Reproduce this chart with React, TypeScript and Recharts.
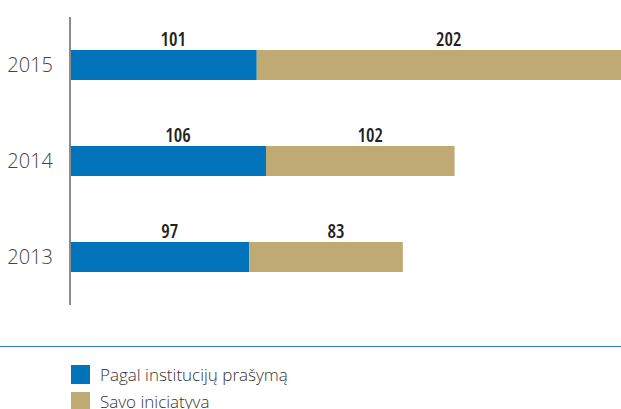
import React from "react";
import { BarChart, Bar, XAxis, YAxis, LabelList } from "recharts";

const years = ["2015", "2014", "2013"];
const pagal = [101, 106, 97];
const savo = [202, 102, 83];
const seriesNames = ["Pagal institucijų prašymą", "Savo iniciatyva"];

const BLUE = "#0073BA";
const TAN = "#C0AA74";

const data = years.map((y, i) => ({ year: y, pagal: pagal[i], savo: savo[i] }));

const ValueLabel = (props: any) => {
  const { x, y, width, value } = props;
  return (
    <text
      x={x + width / 2 + 10}
      y={y - 4}
      textAnchor="middle"
      fontFamily="'Open Sans', sans-serif"
      fontWeight={600}
      fontSize={19}
      fill="#222"
      style={{ fontStretch: "75%" }}
    >
      {value}
    </text>
  );
};

export default function App() {
  return (
    <div style={{ position: "absolute", left: 0, top: 0, width: 621, height: 409, overflow: "hidden", background: "#fff" }}>
      <BarChart
        width={621}
        height={409}
        data={data}
        layout="vertical"
        margin={{ top: 17, right: 0, bottom: 104, left: 0 }}
        barSize={30}
      >
        <XAxis type="number" hide domain={[0, 298]} allowDataOverflow />
        <YAxis
          type="category"
          dataKey="year"
          width={70}
          tickLine={false}
          tickSize={0}
          tickMargin={17}
          axisLine={{ stroke: "#8c8c8c", strokeWidth: 2 }}
          tick={{ fill: "#444", fontSize: 20, fontFamily: "'Open Sans', sans-serif", fontWeight: 300 }}
        />
        <Bar dataKey="pagal" stackId="a" fill={BLUE} isAnimationActive={false} name={seriesNames[0]}>
          <LabelList dataKey="pagal" content={ValueLabel} />
        </Bar>
        <Bar dataKey="savo" stackId="a" fill={TAN} isAnimationActive={false} name={seriesNames[1]}>
          <LabelList dataKey="savo" content={ValueLabel} />
        </Bar>
      </BarChart>
      <div style={{ position: "absolute", left: 0, top: 346, width: 621, height: 1, background: "#2a7fc1" }} />
      <div
        style={{
          position: "absolute",
          left: 71,
          top: 361,
          fontFamily: "'Open Sans', sans-serif",
          fontWeight: 300,
          fontSize: 17,
          color: "#333",
        }}
      >
        {seriesNames.map((n, i) => (
          <div key={n} style={{ display: "flex", alignItems: "center", height: 27, whiteSpace: "nowrap" }}>
            <span style={{ display: "inline-block", width: 19, height: 19, background: i === 0 ? BLUE : TAN, marginRight: 10 }} />
            <span>{n}</span>
          </div>
        ))}
      </div>
    </div>
  );
}
